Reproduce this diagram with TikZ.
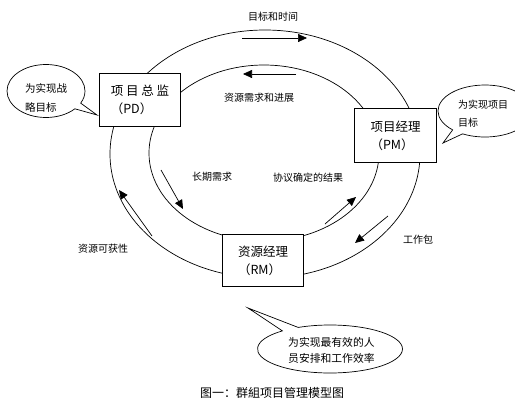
\documentclass[tikz,border=0pt]{standalone}
\usepackage{fontspec}
\newfontfamily\cjk{Noto Sans CJK SC}
\usetikzlibrary{arrows.meta,shapes.callouts}
\begin{document}
\begin{tikzpicture}[x=1pt,y=-1pt,
  lbl/.style={font=\cjk\fontsize{10}{12}\selectfont, inner sep=0pt},
  ctxt/.style={inner sep=0pt, align=left, anchor=west},
  boxnode/.style={draw, line width=1.8pt, fill=white, minimum width=81pt, minimum height=53pt, align=left, inner sep=0pt, font=\cjk\fontsize{12.5}{18}\selectfont},
  ring/.style={line width=0.7pt},
  flow/.style={line width=0.7pt, -{Triangle[length=9pt,width=8pt]}},
  bubble/.style={draw, line width=0.7pt, fill=white, ellipse callout, inner sep=0pt}
]
\useasboundingbox (0,0) rectangle (515,402);
\clip (0,0) rectangle (515,402);
\fill[white] (0,0) rectangle (515,402);
% rings
\draw[ring] (265,154) ellipse [x radius=155, y radius=124];
\draw[ring] (264,153) ellipse [x radius=115, y radius=88];
% boxes
\node[boxnode] (pd) at (140,100) {项 目 总 监\\（PD）};
\node[boxnode, minimum width=82pt, minimum height=54pt] (pm) at (395.5,135.5) {项目经理\\（PM）};
\node[boxnode, minimum height=52pt] (rm) at (263,260.5) {资源经理\\（RM）};
% flow arrows
\coordinate (a1s) at (242,38);  \coordinate (a1e) at (307,38);
\coordinate (a2s) at (296,74);  \coordinate (a2e) at (243,74);
\coordinate (a3s) at (161,170); \coordinate (a3e) at (183,209);
\coordinate (a4s) at (152,236); \coordinate (a4e) at (119,190);
\coordinate (a5s) at (325,224); \coordinate (a5e) at (356,197);
\coordinate (a6s) at (388,216); \coordinate (a6e) at (355,243);
\draw[flow] (a1s) -- (a1e);
\draw[flow] (a2s) -- (a2e);
\draw[flow] (a3s) -- (a3e);
\draw[flow] (a4s) -- (a4e);
\draw[flow] (a5s) -- (a5e);
\draw[flow] (a6s) -- (a6e);
% labels
\node[lbl] (l1) at (273,17) {目标和时间};
\node[lbl] (l2) at (259,98) {资源需求和进展};
\node[lbl] (l3) at (212,177) {长期需求};
\node[lbl] (l4) at (308,178) {协议确定的结果};
\node[lbl] (l5) at (103,249) {资源可获性};
\node[lbl] (l6) at (418,240) {工作包};
% callouts
\node[bubble, minimum width=78pt, minimum height=53pt, callout absolute pointer={(97,115)}] (b1) at (46,91) {};
\node[bubble, minimum width=94pt, minimum height=52pt, callout absolute pointer={(443,143)}] (b2) at (485,111) {};
\node[bubble, minimum width=145pt, minimum height=48pt, callout absolute pointer={(248,308)}] (b3) at (330,349) {};
\node[ctxt, font=\cjk\fontsize{10.5}{19}\selectfont] (t1) at (25,97.5) {为实现战\\略目标};
\node[ctxt, font=\cjk\fontsize{10}{18}\selectfont] (t2) at (458,114) {为实现项目\\目标};
\node[ctxt, font=\cjk\fontsize{10.8}{16}\selectfont] (t3) at (288,350) {为实现最有效的人\\员安排和工作效率};
% caption
\node[font=\cjk\fontsize{12}{14}\selectfont, anchor=west, inner sep=0pt] (cap) at (200,393) {图一：群組项目管理模型图};
\end{tikzpicture}
\end{document}
